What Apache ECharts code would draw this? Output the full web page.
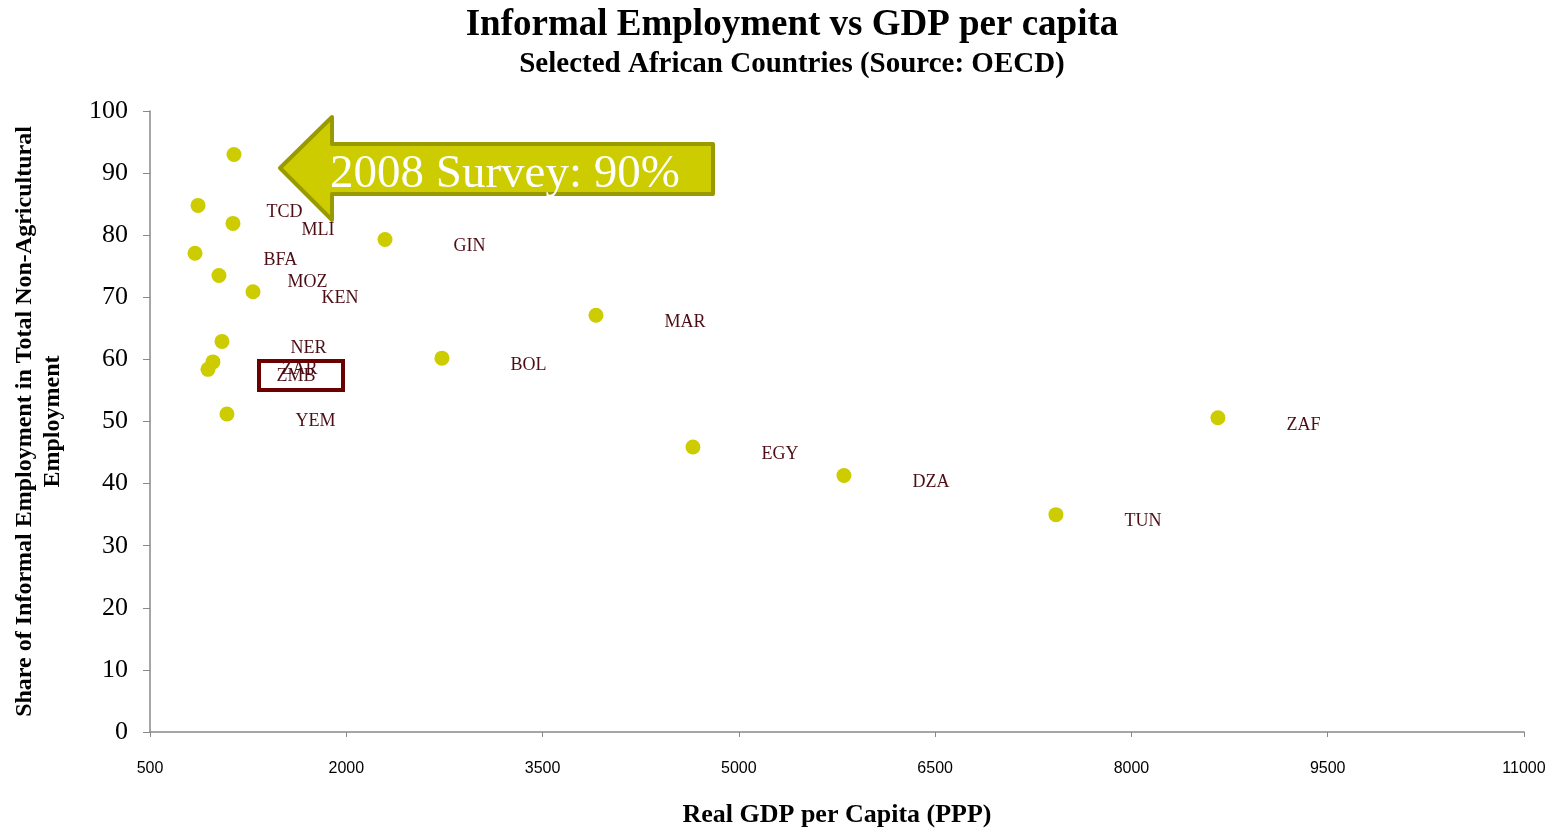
<!DOCTYPE html>
<html><head><meta charset="utf-8">
<script src="https://cdn.jsdelivr.net/npm/echarts@6/dist/echarts.min.js"></script>
<style>html,body{margin:0;padding:0;background:#fff}#c{width:1561px;height:829px}</style>
</head><body><div id="c"></div>
<script>
// Data
const countries = ['', 'TCD', 'MLI', 'BFA', 'GIN', 'MOZ', 'KEN', 'MAR', 'NER', 'BOL', 'ZAR', 'ZMB', 'YEM', 'EGY', 'DZA', 'TUN', 'ZAF'];
const gdpPerCapita = [1142, 867, 1134, 844, 2296, 1027, 1287, 3908, 1050, 2731, 981, 943, 1088, 4649, 5803, 7423, 8661];
const informalShare = [93.0, 84.8, 81.9, 77.1, 79.3, 73.5, 70.9, 67.1, 62.9, 60.2, 59.6, 58.4, 51.2, 45.9, 41.3, 35.0, 50.6];
const xTicks = [500, 2000, 3500, 5000, 6500, 8000, 9500, 11000];
const yTicks = [0, 10, 20, 30, 40, 50, 60, 70, 80, 90, 100];

const points = gdpPerCapita.map((g, i) => ({ value: [g, informalShare[i]], name: countries[i] }));

const serif = '"Liberation Serif", "DejaVu Serif", serif';
const chart = echarts.init(document.getElementById('c'));
chart.setOption({
  animation: false,
  backgroundColor: '#fff',
  title: {
    text: 'Informal Employment vs GDP per capita',
    subtext: 'Selected African Countries (Source: OECD)',
    left: 787, top: 2, textAlign: 'center', itemGap: 6,
    textStyle: { fontFamily: serif, fontWeight: 'bold', fontSize: 37, color: '#000' },
    subtextStyle: { fontFamily: serif, fontWeight: 'bold', fontSize: 29, color: '#000' }
  },
  grid: { left: 150, right: 37, top: 111, bottom: 97, containLabel: false, outerBoundsMode: 'none' },
  xAxis: {
    type: 'value', min: xTicks[0], max: xTicks[xTicks.length - 1], interval: 1500,
    name: 'Real GDP per Capita (PPP)', nameLocation: 'middle', nameGap: 70,
    nameTextStyle: { fontFamily: serif, fontWeight: 'bold', fontSize: 26, color: '#000' },
    axisLine: { show: true, lineStyle: { color: '#888', width: 1.5 } },
    axisTick: { show: true, length: 5, inside: false, lineStyle: { color: '#888' } },
    axisLabel: { margin: 29, fontFamily: '"Liberation Sans", Arial, sans-serif', fontSize: 16, color: '#000', formatter: v => String(v) },
    splitLine: { show: false }
  },
  yAxis: {
    type: 'value', min: yTicks[0], max: yTicks[yTicks.length - 1], interval: 10,
    name: 'Share of Informal Employment in Total Non-Agricultural\nEmployment',
    nameLocation: 'middle', nameGap: 83, nameRotate: 90,
    nameTextStyle: { fontFamily: serif, fontWeight: 'bold', fontSize: 24, color: '#000', lineHeight: 28, align: 'center' },
    axisLine: { show: true, lineStyle: { color: '#888', width: 1.5 } },
    axisTick: { show: true, length: 7, lineStyle: { color: '#888' } },
    axisLabel: { margin: 22, fontFamily: serif, fontSize: 26, color: '#000' },
    splitLine: { show: false }
  },
  series: [{
    type: 'scatter',
    data: points,
    symbolSize: 15,
    itemStyle: { color: '#cccc00', opacity: 1 },
    label: {
      show: true, position: 'right', distance: 61, offset: [0, 7],
      formatter: p => p.name,
      fontFamily: serif, fontSize: 18, color: '#4d0d14'
    },
    z: 2
  }],
  graphic: [
    {
      type: 'polygon', z: 100,
      shape: { points: [[280, 168], [332, 117], [332, 144], [713, 144], [713, 194], [332, 194], [332, 220]] },
      style: { fill: '#cccc00', stroke: '#999900', lineWidth: 4, lineJoin: 'round' }
    },
    {
      type: 'text', z: 101, left: 330, top: 151,
      style: { text: '2008 Survey: 90%', fill: '#fff', font: '47px "Liberation Serif", serif' }
    },
    {
      type: 'rect', z: 100,
      shape: { x: 259, y: 361, width: 84, height: 29 },
      style: { fill: 'none', stroke: '#6b0000', lineWidth: 4 }
    }
  ]
});
</script></body></html>
